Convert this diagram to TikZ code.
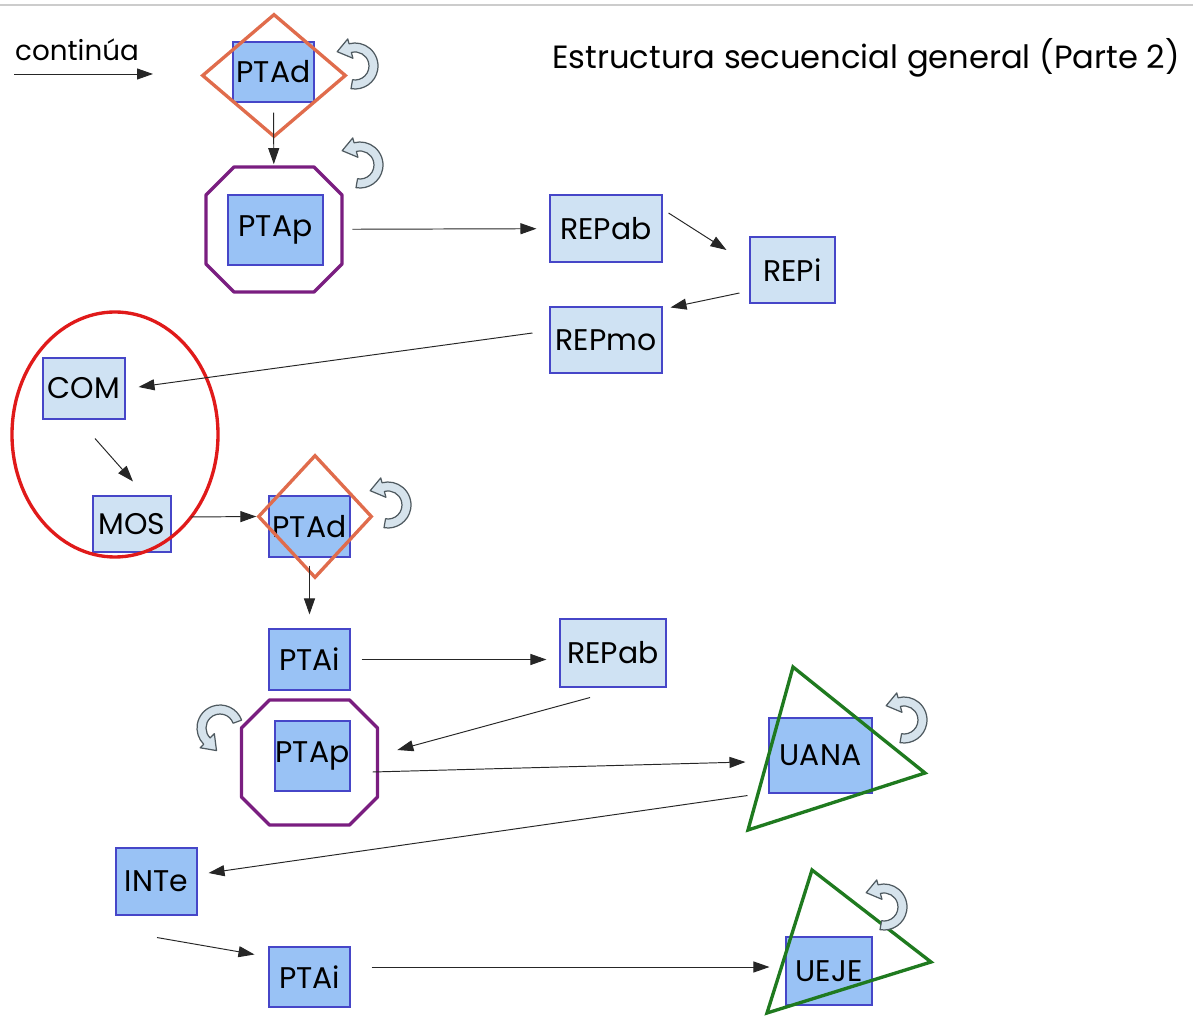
\documentclass[tikz,border=0pt]{standalone}
\usepackage{fontspec}
\setmainfont{Poppins}
\usetikzlibrary{positioning, arrows.meta, calc, shapes.geometric}
\definecolor{boxdark}{HTML}{99C2F5}
\definecolor{boxlight}{HTML}{CFE2F3}
\definecolor{boxedge}{HTML}{4646C8}
\definecolor{rhombline}{HTML}{E06C4C}
\definecolor{octline}{HTML}{7A1E80}
\definecolor{ringline}{HTML}{E01A1A}
\definecolor{triline}{HTML}{1F7A1F}
\definecolor{loopfill}{HTML}{D6E3EC}
\definecolor{loopedge}{HTML}{4F5A60}

% round arrow that marks a repeated step
\tikzset{
  loopback/.pic={
    \draw[loopline] (-100:23) arc[start angle=-100, end angle=105, radius=23]
      -- (105:28) -- (-17.8,14.3) -- (105:8) -- (105:14)
      arc[start angle=105, end angle=-100, radius=14] -- cycle;
  },
  octagon/.pic={
    \draw[octframe] (-40,62.5) -- (40,62.5) -- (68,34.5) -- (68,-34.5)
      -- (40,-62.5) -- (-40,-62.5) -- (-68,-34.5) -- (-68,34.5) -- cycle;
  }
}

\begin{document}
\begin{tikzpicture}[x=0.02cm, y=0.02cm,
  unit/.style={draw=boxedge, line width=0.6pt, inner sep=0pt, font=\fontsize{17}{17}\selectfont},
  dark/.style={unit, fill=boxdark},
  light/.style={unit, fill=boxlight},
  px/.style 2 args={minimum width=#1*0.02cm, minimum height=#2*0.02cm},
  rhomb/.style={diamond, draw=rhombline, line width=1.9pt, inner sep=0pt},
  hull/.style={rectangle, inner sep=0pt, px={136}{125}},
  octframe/.style={draw=octline, line width=1.9pt, line join=round},
  ring/.style={ellipse, draw=ringline, line width=1.9pt, inner sep=0pt},
  tri/.style={draw=triline, line width=1.9pt},
  flow/.style={-{Triangle[length=0.32cm, width=0.22cm]}, line width=0.55pt, draw=black!85},
  loopline/.style={fill=loopfill, draw=loopedge, line width=0.7pt, line join=round}]
\useasboundingbox (0,0) rectangle (1193,1015);
\draw[black!20, line width=0.8pt] (0,1010) -- (1193,1010);

\node (title) [anchor=east, inner sep=0pt, font=\fontsize{18.3}{18.3}\selectfont] at (1180,957) {Estructura secuencial general (Parte 2)};
\node (cont) [font=\fontsize{15.8}{15.8}\selectfont] at (77,965) {continúa};
\coordinate (entry) at (14,941);
\coordinate (exit) at (153,941);

% first part
\node (ptad1) [dark, px={81}{60}] at (273.5,943) {PTAd};
\node (ptad1 frame) [rhomb, px={144}{123}] at (274,939.5) {};
\node (ptap1) [dark, px={95}{70}] at (275.5,785) {PTAp};
\node (ptap1 frame) [hull] at (274,785.5) {};
\pic at (ptap1 frame) {octagon};
\node (repab1) [light, px={112}{67}] at (606,786.5) {REPab};
\node (repi) [light, px={85}{66}] at (792.5,745) {REPi};
\node (repmo) [light, px={112}{66}] at (606,675) {REPmo};
\node (com) [light, px={82}{61}] at (84,626.5) {COM};
\node (mos) [light, px={78}{56}] at (132,491) {MOS};
\node (group) [ring, px={206}{245}] at (115,580.5) {};

% second part
\node (ptad2) [dark, px={81}{61}] at (309.5,488.5) {PTAd};
\node (ptad2 frame) [rhomb, px={114}{123}] at (315,498.5) {};
\node (ptai1) [dark, px={81}{61}] at (309.5,355.5) {PTAi};
\node (repab2) [light, px={106}{68}] at (613,362) {REPab};
\node (ptap2) [dark, px={75}{70}] at (312.5,259) {PTAp};
\node (ptap2 frame) [hull] at (309.5,252.5) {};
\pic at (ptap2 frame) {octagon};
\node (uana) [dark, px={103}{75}] at (820.5,259.5) {UANA};
\node (inte) [dark, px={81}{67}] at (156.5,133.5) {INTe};
\node (ptai2) [dark, px={81}{60}] at (309.5,38) {PTAi};
\node (ueje) [dark, px={86}{68}] at (829,44) {UEJE};

\draw[tri] ($(uana)+(-27.5,88.5)$) -- ($(uana)+(104.5,-17.5)$) -- ($(uana)+(-72.5,-74.5)$) -- cycle;
\draw[tri] ($(ueje)+(-17,101)$) -- ($(ueje)+(102,9)$) -- ($(ueje)+(-62,-42)$) -- cycle;

\pic at (355,949) {loopback};
\pic at (360,850) {loopback};
\pic at (388,510) {loopback};
\pic[rotate=120] at (220,287) {loopback};
\pic at (904,295) {loopback};
\pic at (884,108) {loopback};

% connectors
\draw[flow] (entry) -- (exit);
\draw[flow, shorten <=0.2cm, shorten >=0.05cm] (ptad1) -- (ptap1 frame);
\draw[flow, shorten <=0.2cm, shorten >=0.26cm] (ptap1 frame) -- (repab1);
\draw[flow] ($(repab1.east)+(6,15.5)$) -- ($(repi.west)+(-23,20)$);
\draw[flow] ($(repi.west)+(-10,-23)$) -- ($(repmo.north east)+(8,-1)$);
\draw[flow] ($(repmo.west)+(-17,7)$) -- ($(com.east)+(13,1.5)$);
\draw[flow] ($(com.south)+(11,-19)$) -- ($(mos.north)+(1,14)$);
\draw[flow] ($(mos.east)+(19,7)$) -- (ptad2 frame.west);
\draw[flow, shorten <=0.16cm, shorten >=0.28cm] (ptad2) -- (ptai1);
\draw[flow, shorten <=0.22cm, shorten >=0.26cm] (ptai1) -- (ptai1 -| repab2.west);
\draw[flow] ($(repab2.south)+(-23,-10)$) -- ($(ptap2 frame.east)+(19.5,12.5)$);
\draw[flow] ($(ptap2.east)+(22,-16)$) -- ($(uana.west)+(-23,-6.5)$);
\draw[flow] ($(uana.south west)+(-21,-2)$) -- ($(inte.east)+(11,8.5)$);
\draw[flow] ($(inte.south)+(0.5,-22)$) -- ($(ptai2.north west)+(-14,-8)$);
\draw[flow] ($(ptai2.east)+(21,10)$) -- ($(ueje.west)+(-16,4)$);
\end{tikzpicture}
\end{document}
